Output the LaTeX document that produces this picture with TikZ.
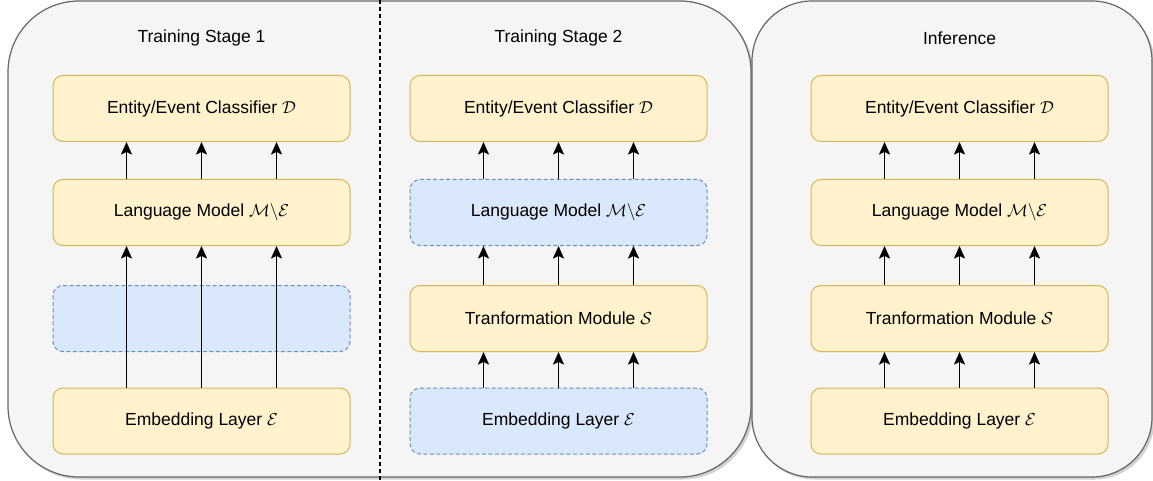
\documentclass[tikz,border=0pt]{standalone}
\usepackage{fontspec}
\setmainfont{Liberation Sans}
\usetikzlibrary{arrows.meta}
\definecolor{panelfill}{HTML}{F5F5F5}
\definecolor{paneldraw}{HTML}{666666}
\definecolor{yfill}{HTML}{FFF2CC}
\definecolor{ydraw}{HTML}{D6B656}
\definecolor{bfill}{HTML}{DAE8FC}
\definecolor{bdraw}{HTML}{6C8EBF}
\tikzset{
  panel/.style={draw=paneldraw, fill=panelfill, line width=1.2pt, inner sep=0pt},
  ybox/.style={draw=ydraw, fill=yfill, line width=1pt, rounded corners=10pt,
    minimum width=297pt, minimum height=66pt, inner sep=0pt,
    font=\fontsize{17.5}{21}\selectfont},
  bbox/.style={draw=bdraw, fill=bfill, line width=1pt, rounded corners=10pt,
    dash pattern=on 4pt off 2.5pt,
    minimum width=297pt, minimum height=66pt, inner sep=0pt,
    font=\fontsize{17.5}{21}\selectfont},
  ttl/.style={font=\fontsize{17.5}{21}\selectfont, inner sep=0pt},
  arr/.style={-{Stealth[length=12.5pt,width=11pt,inset=2.5pt]}, line width=1.8pt, black},
  sep/.style={line width=1.2pt, dash pattern=on 4pt off 3pt, black},
}
\begin{document}
\begin{tikzpicture}[x=1pt, y=-1pt]
\useasboundingbox (0,0) rectangle (1153,481);
% shadows
\fill[black!18, rounded corners=71pt] (10,3.5) rectangle (753.5,479.5);
\fill[black!18, rounded corners=60pt] (754,3.5) rectangle (1154.5,479.5);
% panels
\node[panel, rounded corners=71pt, minimum width=743pt, minimum height=476pt] (p1) at (379.5,239) {};
\node[panel, rounded corners=60pt, minimum width=400pt, minimum height=476pt] (p2) at (952,239) {};
\coordinate (st) at (380,0);
\coordinate (sb) at (380,481);
\draw[sep] (st) -- (sb);
% titles
\node[ttl] (t1) at (201.5,38) {Training Stage 1};
\node[ttl] (t2) at (558.5,38) {Training Stage 2};
\node[ttl] (t3) at (959.5,38) {Inference};
% stage 1
\node[ybox] (d1) at (201.5,108.5) {Entity/Event Classifier $\mathcal{D}$};
\node[ybox] (m1) at (201.5,212.5) {Language Model $\mathcal{M}\backslash\mathcal{E}$};
\node[bbox] (s1) at (201.5,318.5) {};
\node[ybox] (e1) at (201.5,421) {Embedding Layer $\mathcal{E}$};
% stage 2
\node[ybox] (d2) at (558.5,108.5) {Entity/Event Classifier $\mathcal{D}$};
\node[bbox] (m2) at (558.5,212.5) {Language Model $\mathcal{M}\backslash\mathcal{E}$};
\node[ybox] (s2) at (558.5,318.5) {Tranformation Module $\mathcal{S}$};
\node[bbox] (e2) at (558.5,421) {Embedding Layer $\mathcal{E}$};
% inference
\node[ybox] (d3) at (959.5,108.5) {Entity/Event Classifier $\mathcal{D}$};
\node[ybox] (m3) at (959.5,212.5) {Language Model $\mathcal{M}\backslash\mathcal{E}$};
\node[ybox] (s3) at (959.5,318.5) {Tranformation Module $\mathcal{S}$};
\node[ybox] (e3) at (959.5,421) {Embedding Layer $\mathcal{E}$};
% arrows
\foreach \dx in {-75,0,75}{
  \draw[arr] ([xshift=\dx pt]m1.north) -- ([xshift=\dx pt]d1.south);
  \draw[arr] ([xshift=\dx pt]e1.north) -- ([xshift=\dx pt]m1.south);
  \draw[arr] ([xshift=\dx pt]m2.north) -- ([xshift=\dx pt]d2.south);
  \draw[arr] ([xshift=\dx pt]s2.north) -- ([xshift=\dx pt]m2.south);
  \draw[arr] ([xshift=\dx pt]e2.north) -- ([xshift=\dx pt]s2.south);
  \draw[arr] ([xshift=\dx pt]m3.north) -- ([xshift=\dx pt]d3.south);
  \draw[arr] ([xshift=\dx pt]s3.north) -- ([xshift=\dx pt]m3.south);
  \draw[arr] ([xshift=\dx pt]e3.north) -- ([xshift=\dx pt]s3.south);
}
\end{tikzpicture}
\end{document}
